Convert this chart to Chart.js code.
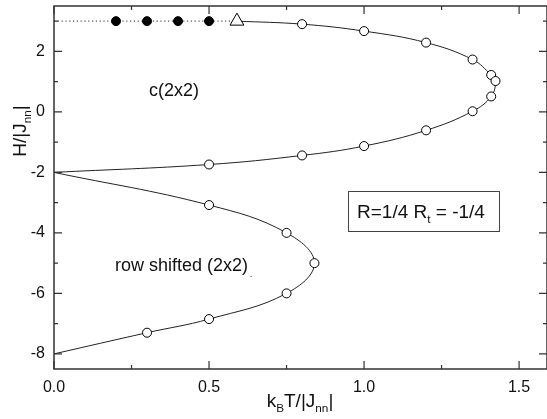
<!DOCTYPE html>
<html>
<head>
<meta charset="utf-8">
<script src="https://cdn.jsdelivr.net/npm/chart.js@4"></script>
<style>
  body { margin: 0; background: #fff; }
  #wrap { width: 547px; height: 419px; }
</style>
</head>
<body>
<div id="wrap"><canvas id="phaseChart" width="547" height="419"></canvas></div>
<script>
// ordered phase points (filled) and the end point (triangle) on H = 3
const filledT = [0.2, 0.3, 0.4, 0.5];
const filledH = [3, 3, 3, 3];
const triT = [0.59];
const triH = [3];
const dotT = [0, 0.59];
const dotH = [3, 3];

// c(2x2) boundary, from triangle down to the point (0,-2)
const upperT = [0.59, 0.8, 1.0, 1.2, 1.35, 1.41, 1.424, 1.41, 1.35, 1.2, 1.0, 0.8, 0.5, 0];
const upperH = [3, 2.9, 2.67, 2.29, 1.73, 1.22, 1.02, 0.51, 0.02, -0.61, -1.13, -1.44, -1.74, -2];

// row shifted (2x2) boundary
const lowerT = [0, 0.5, 0.75, 0.84, 0.75, 0.5, 0.3, 0];
const lowerH = [-2, -3.08, -4.0, -5.0, -6.0, -6.85, -7.3, -8];

const xMajor = [0, 0.5, 1.0, 1.5];
const xMinor = [0.25, 0.75, 1.25];
const yMajor = [-8, -6, -4, -2, 0, 2];
const yMinor = [-7, -5, -3, -1, 1, 3];

const FONT = "Arial, 'Liberation Sans', sans-serif";

function pts(xs, ys) {
  return xs.map((x, i) => ({ x: x, y: ys[i] }));
}

// draws text where some parts are subscripts
function drawRich(ctx, parts, x, y, size) {
  let cx = x;
  parts.forEach(p => {
    const s = p.sub ? size * 0.62 : size;
    ctx.font = s + "px " + FONT;
    ctx.fillText(p.t, cx, p.sub ? y + size * 0.28 : y);
    cx += ctx.measureText(p.t).width;
  });
  return cx - x;
}
function richWidth(ctx, parts, size) {
  let w = 0;
  parts.forEach(p => {
    ctx.font = (p.sub ? size * 0.62 : size) + "px " + FONT;
    w += ctx.measureText(p.t).width;
  });
  return w;
}

function noPad(s) {
  s.paddingTop = 0; s.paddingBottom = 0; s.paddingLeft = 0; s.paddingRight = 0;
}

const framePlugin = {
  id: "frame",
  afterDraw(chart) {
    const ctx = chart.ctx;
    const a = chart.chartArea;
    const xs = chart.scales.x, ys = chart.scales.y;
    ctx.save();
    ctx.strokeStyle = "#333";
    ctx.lineWidth = 1.5;
    ctx.strokeRect(a.left, a.top, a.right - a.left, a.bottom - a.top);

    ctx.lineWidth = 1.2;
    ctx.beginPath();
    const tickX = (v, len) => {
      const px = xs.getPixelForValue(v);
      ctx.moveTo(px, a.bottom); ctx.lineTo(px, a.bottom - len);
      ctx.moveTo(px, a.top); ctx.lineTo(px, a.top + len);
    };
    const tickY = (v, len) => {
      const py = ys.getPixelForValue(v);
      ctx.moveTo(a.left, py); ctx.lineTo(a.left + len, py);
      ctx.moveTo(a.right, py); ctx.lineTo(a.right - len, py);
    };
    xMajor.forEach(v => tickX(v, 8));
    xMinor.forEach(v => tickX(v, 4));
    yMajor.forEach(v => tickY(v, 8));
    yMinor.forEach(v => tickY(v, 4));
    ctx.stroke();

    // annotations
    ctx.fillStyle = "#111";
    ctx.textBaseline = "middle";
    ctx.textAlign = "left";
    ctx.font = "18px " + FONT;
    ctx.fillText("c(2x2)", 149, 91);
    ctx.fillText("row shifted (2x2)", 115, 266);
    ctx.font = "7px " + FONT;
    ctx.fillText("-", 250, 276);

    // parameter box
    ctx.strokeStyle = "#444";
    ctx.lineWidth = 1;
    ctx.strokeRect(348.5, 191.5, 151, 40);
    ctx.textBaseline = "alphabetic";
    drawRich(ctx, [{ t: "R=1/4 R" }, { t: "t", sub: true }, { t: " = -1/4" }], 357, 218, 19);

    // axis titles
    const xt = [{ t: "k" }, { t: "B", sub: true }, { t: "T/|J" }, { t: "nn", sub: true }, { t: "|" }];
    const xw = richWidth(ctx, xt, 19);
    drawRich(ctx, xt, 300 - xw / 2, 407, 19);

    const yt = [{ t: "H/|J" }, { t: "nn", sub: true }, { t: "|" }];
    const yw = richWidth(ctx, yt, 19);
    ctx.translate(26, 131);
    ctx.rotate(-Math.PI / 2);
    drawRich(ctx, yt, -yw / 2, 0, 19);
    ctx.restore();
  }
};

const openPoint = (n) => (c) => (c.dataIndex === 0 || c.dataIndex === n - 1) ? 0 : 4.5;

new Chart(document.getElementById("phaseChart"), {
  type: "scatter",
  data: {
    datasets: [
      {
        data: pts(filledT, filledH),
        pointRadius: 4.5,
        pointBackgroundColor: "#000",
        pointBorderColor: "#000",
        showLine: false,
        order: 0
      },
      {
        data: pts(triT, triH),
        pointStyle: "triangle",
        pointRadius: 8,
        pointBackgroundColor: "#fff",
        pointBorderColor: "#000",
        pointBorderWidth: 1,
        showLine: false,
        order: 0
      },
      {
        data: pts(dotT, dotH),
        showLine: true,
        borderColor: "#555",
        borderWidth: 1.2,
        borderDash: [1.2, 2.6],
        pointRadius: 0,
        order: 2
      },
      {
        data: pts(upperT, upperH),
        showLine: true,
        tension: 0.4,
        borderColor: "#222",
        borderWidth: 1,
        pointRadius: openPoint(upperT.length),
        pointBackgroundColor: "#fff",
        pointBorderColor: "#000",
        pointBorderWidth: 1,
        order: 1
      },
      {
        data: pts(lowerT, lowerH),
        showLine: true,
        tension: 0.4,
        borderColor: "#222",
        borderWidth: 1,
        pointRadius: openPoint(lowerT.length),
        pointBackgroundColor: "#fff",
        pointBorderColor: "#000",
        pointBorderWidth: 1,
        order: 1
      }
    ]
  },
  options: {
    responsive: false,
    animation: false,
    layout: { autoPadding: false, padding: { top: 6, right: 0, left: 0, bottom: 0 } },
    plugins: { legend: { display: false }, tooltip: { enabled: false } },
    scales: {
      x: {
        type: "linear",
        min: 0,
        max: 1.59,
        grid: { display: false, drawTicks: false },
        border: { display: false },
        afterFit: s => { s.height = 50; noPad(s); },
        afterBuildTicks: s => { s.ticks = xMajor.map(v => ({ value: v })); },
        ticks: {
          padding: 9,
          color: "#111",
          font: { family: FONT, size: 16 },
          callback: v => v.toFixed(1)
        }
      },
      y: {
        type: "linear",
        min: -8.5,
        max: 3.5,
        grid: { display: false, drawTicks: false },
        border: { display: false },
        afterFit: s => { s.width = 54; noPad(s); },
        afterBuildTicks: s => { s.ticks = yMajor.map(v => ({ value: v })); },
        ticks: {
          padding: 9,
          color: "#111",
          font: { family: FONT, size: 16 },
          callback: v => String(v)
        }
      }
    }
  },
  plugins: [framePlugin]
});
</script>
</body>
</html>
